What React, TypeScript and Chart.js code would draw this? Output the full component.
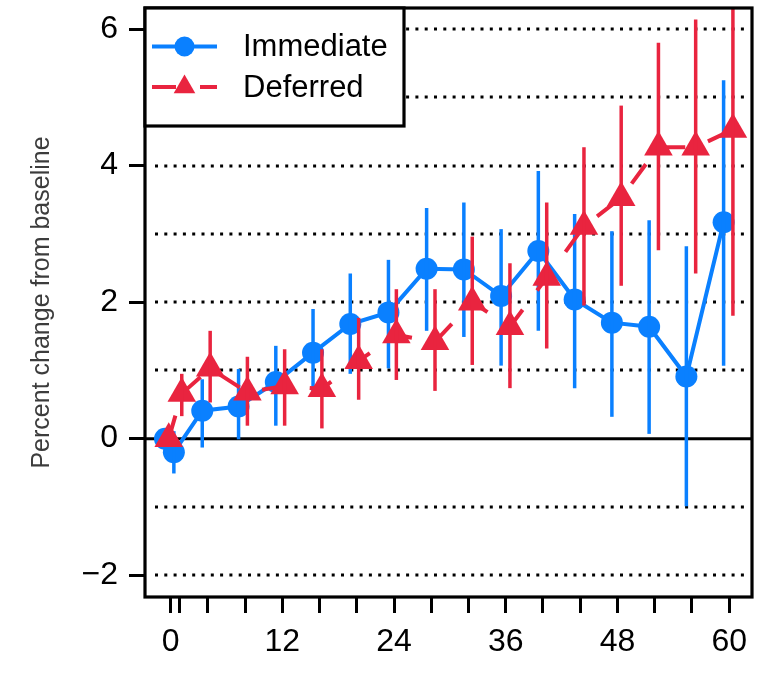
import React, { useEffect, useRef } from 'react';
import { Chart, registerables } from 'chart.js';

Chart.register(...registerables);

// Immediate arm: visit month (slightly dodged), mean % change, 95% CI
const immediateMonths = [-0.6, 0.35, 3.4, 7.3, 11.3, 15.3, 19.3, 23.4, 27.5, 31.5, 35.5, 39.5, 43.4, 47.4, 51.4, 55.4, 59.4];
const immediateChange = [0, -0.2, 0.41, 0.47, 0.83, 1.26, 1.68, 1.85, 2.49, 2.48, 2.09, 2.75, 2.04, 1.7, 1.64, 0.91, 3.17];
const immediateLower = [0, -0.51, -0.13, -0.01, 0.19, 0.64, 0.95, 1.03, 1.58, 1.49, 1.07, 1.58, 0.74, 0.32, 0.07, -0.99, 1.07];
const immediateUpper = [0, 0.11, 0.87, 1.02, 1.36, 1.9, 2.42, 2.62, 3.38, 3.46, 3.07, 3.92, 3.29, 3.04, 3.2, 2.82, 5.25];

// Deferred arm
const deferredMonths = [-0.2, 1.2, 4.25, 8.25, 12.25, 16.25, 20.2, 24.25, 28.4, 32.4, 36.45, 40.4, 44.4, 48.4, 52.4, 56.4, 60.4];
const deferredChange = [0, 0.66, 1.03, 0.68, 0.77, 0.73, 1.14, 1.52, 1.42, 2.0, 1.64, 2.36, 3.11, 3.53, 4.27, 4.27, 4.53];
const deferredLower = [0, 0.33, 0.53, 0.19, 0.19, 0.15, 0.57, 0.86, 0.7, 1.08, 0.74, 1.32, 1.95, 2.24, 2.76, 2.42, 1.8];
const deferredUpper = [0, 0.95, 1.58, 1.2, 1.31, 1.31, 1.77, 2.19, 2.19, 2.96, 2.57, 3.46, 4.27, 4.88, 5.8, 6.14, 7.26];

const xTickValues = [0, 1, 4, 8, 12, 16, 20, 24, 28, 32, 36, 40, 44, 48, 52, 56, 60];
const xLabelledTicks = [0, 12, 24, 36, 48, 60];
const yTickValues = [-2, 0, 2, 4, 6];
const yDottedLines = [-2, -1, 1, 2, 3, 4, 5, 6];

const seriesNames = ['Immediate', 'Deferred'];
const yTitle = 'Percent change from baseline';

const BLUE = '#0A80FF';
const RED = '#E9243F';
const FONT = '"Liberation Sans", Arial, Helvetica, sans-serif';
const RED_DASH = [24, 24];

const lowerBounds = [immediateLower, deferredLower];
const upperBounds = [immediateUpper, deferredUpper];
const monthsBySeries = [immediateMonths, deferredMonths];
const colors = [BLUE, RED];

const gridPlugin = {
  id: 'dottedGrid',
  beforeDatasetsDraw(chart: any) {
    const { ctx, chartArea } = chart;
    const y = chart.scales.y;
    ctx.save();
    ctx.strokeStyle = '#000';
    ctx.lineWidth = 3;
    ctx.setLineDash([3, 6.3]);
    yDottedLines.forEach((v) => {
      const py = Math.round(y.getPixelForValue(v));
      ctx.beginPath();
      ctx.moveTo(chartArea.left + 10, py);
      ctx.lineTo(chartArea.right - 6, py);
      ctx.stroke();
    });
    ctx.setLineDash([]);
    ctx.lineWidth = 3;
    const p0 = y.getPixelForValue(0);
    ctx.beginPath();
    ctx.moveTo(chartArea.left, p0);
    ctx.lineTo(chartArea.right, p0);
    ctx.stroke();
    ctx.restore();
  },
};

const errorBarPlugin = {
  id: 'errorBars',
  afterDatasetDraw(chart: any, args: any) {
    const i = args.index;
    const { ctx, chartArea } = chart;
    const xs = chart.scales.x;
    const ys = chart.scales.y;
    ctx.save();
    ctx.beginPath();
    ctx.rect(chartArea.left, chartArea.top, chartArea.right - chartArea.left, chartArea.bottom - chartArea.top);
    ctx.clip();
    ctx.strokeStyle = colors[i];
    ctx.lineWidth = 3.5;
    monthsBySeries[i].forEach((m, k) => {
      const lo = lowerBounds[i][k];
      const hi = upperBounds[i][k];
      if (hi - lo <= 0) return;
      const px = xs.getPixelForValue(m);
      ctx.beginPath();
      ctx.moveTo(px, ys.getPixelForValue(lo));
      ctx.lineTo(px, ys.getPixelForValue(hi));
      ctx.stroke();
    });
    ctx.restore();
  },
};

const frameLegendPlugin = {
  id: 'frameLegend',
  afterDraw(chart: any) {
    const { ctx, chartArea } = chart;
    ctx.save();
    ctx.strokeStyle = '#000';
    ctx.lineWidth = 3.2;
    ctx.strokeRect(chartArea.left, chartArea.top, chartArea.right - chartArea.left, chartArea.bottom - chartArea.top);

    // legend box in the top-left corner
    const bx = chartArea.left;
    const by = chartArea.top;
    const bw = 259;
    const bh = 118;
    ctx.fillStyle = '#fff';
    ctx.fillRect(bx, by, bw, bh);
    ctx.strokeRect(bx, by, bw, bh);

    const x0 = bx + 7;
    const x1 = bx + 72;
    const mx = bx + 39.5;
    const rowY = [by + 38.5, by + 79];

    // Immediate sample
    ctx.strokeStyle = BLUE;
    ctx.lineWidth = 4;
    ctx.beginPath();
    ctx.moveTo(x0, rowY[0]);
    ctx.lineTo(x1, rowY[0]);
    ctx.stroke();
    ctx.fillStyle = BLUE;
    ctx.beginPath();
    ctx.arc(mx, rowY[0], 10, 0, Math.PI * 2);
    ctx.fill();

    // Deferred sample
    ctx.strokeStyle = RED;
    ctx.setLineDash(RED_DASH);
    ctx.beginPath();
    ctx.moveTo(x0, rowY[1]);
    ctx.lineTo(x1, rowY[1]);
    ctx.stroke();
    ctx.setLineDash([]);
    ctx.fillStyle = RED;
    const r = 12.5;
    ctx.beginPath();
    ctx.moveTo(mx, rowY[1] - r);
    ctx.lineTo(mx + (r * Math.sqrt(3)) / 2, rowY[1] + r / 2);
    ctx.lineTo(mx - (r * Math.sqrt(3)) / 2, rowY[1] + r / 2);
    ctx.closePath();
    ctx.fill();

    ctx.fillStyle = '#000';
    ctx.font = `31px ${FONT}`;
    ctx.textAlign = 'left';
    ctx.textBaseline = 'middle';
    ctx.fillText(seriesNames[0], bx + 98, rowY[0] + 1);
    ctx.fillText(seriesNames[1], bx + 98, rowY[1] + 1);
    ctx.restore();
  },
};

export default function App() {
  const canvasRef = useRef<HTMLCanvasElement | null>(null);

  useEffect(() => {
    const canvas = canvasRef.current;
    if (!canvas) return;

    const immediateData = immediateMonths.map((m, i) => ({ x: m, y: immediateChange[i] }));
    const deferredData = deferredMonths.map((m, i) => ({ x: m, y: deferredChange[i] }));

    const chart = new Chart(canvas, {
      type: 'line',
      data: {
        datasets: [
          {
            label: seriesNames[0],
            data: immediateData,
            borderColor: BLUE,
            backgroundColor: BLUE,
            borderWidth: 4,
            pointStyle: 'circle',
            pointRadius: 11,
            pointBackgroundColor: BLUE,
            pointBorderWidth: 0,
            tension: 0,
            order: 2,
          },
          {
            label: seriesNames[1],
            data: deferredData,
            borderColor: RED,
            backgroundColor: RED,
            borderWidth: 4,
            borderDash: RED_DASH,
            pointStyle: 'triangle',
            pointRadius: 16.5,
            pointBackgroundColor: RED,
            pointBorderWidth: 0,
            tension: 0,
            order: 1,
          },
        ],
      },
      options: {
        responsive: false,
        animation: false,
        events: [],
        layout: { autoPadding: false, padding: { left: 0, right: 6, top: 8, bottom: 0 } },
        plugins: {
          legend: { display: false },
          tooltip: { enabled: false },
        },
        scales: {
          x: {
            type: 'linear',
            min: -2.75,
            max: 62.45,
            afterFit: (scale: any) => {
              scale.height = 81;
              scale.paddingLeft = 0;
              scale.paddingRight = 0;
            },
            afterBuildTicks: (scale: any) => {
              scale.ticks = xTickValues.map((v) => ({ value: v }));
            },
            ticks: {
              autoSkip: false,
              maxRotation: 0,
              color: '#000',
              padding: 10,
              font: { family: FONT, size: 32 },
              callback: (v: any) => (xLabelledTicks.includes(Number(v)) ? String(v) : ''),
            },
            grid: {
              drawOnChartArea: false,
              drawTicks: true,
              tickLength: 16,
              tickWidth: 3,
              tickColor: '#000',
              color: '#000',
            },
            border: { display: false },
          },
          y: {
            type: 'linear',
            min: -2.32,
            max: 6.31,
            afterFit: (scale: any) => {
              scale.width = 145;
              scale.paddingTop = 0;
              scale.paddingBottom = 0;
            },
            afterBuildTicks: (scale: any) => {
              scale.ticks = yTickValues.map((v) => ({ value: v }));
            },
            ticks: {
              color: '#000',
              padding: 11,
              font: { family: FONT, size: 32 },
              callback: (v: any) => (Number(v) < 0 ? '\u2212' + Math.abs(Number(v)) : String(v)),
            },
            grid: {
              drawOnChartArea: false,
              drawTicks: true,
              tickLength: 16,
              tickWidth: 3,
              tickColor: '#000',
              color: '#000',
            },
            border: { display: false },
            title: {
              display: true,
              text: yTitle,
              color: '#3c3c3c',
              font: { family: FONT, size: 25 },
              padding: { top: 27, bottom: 0 },
            },
          },
        },
      },
      plugins: [gridPlugin, errorBarPlugin, frameLegendPlugin],
    });

    return () => chart.destroy();
  }, []);

  return (
    <div style={{ position: 'absolute', left: 0, top: 0, width: 758, height: 678, background: '#fff' }}>
      <canvas ref={canvasRef} width={758} height={678} style={{ display: 'block' }} />
    </div>
  );
}
